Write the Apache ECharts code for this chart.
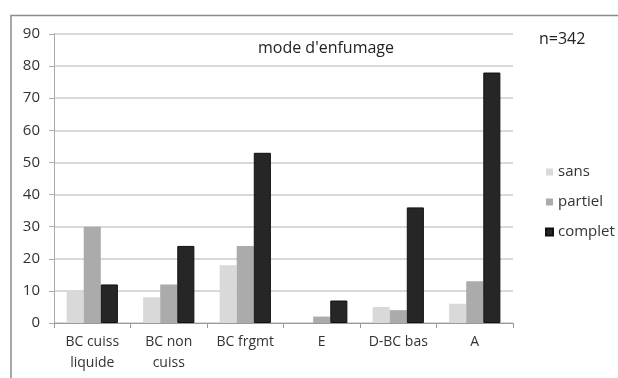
<!DOCTYPE html>
<html><head><meta charset="utf-8">
<script src="https://cdn.jsdelivr.net/npm/echarts@6/dist/echarts.min.js"></script>
<style>html,body{margin:0;padding:0;background:#fff}#c{width:618px;height:378px}</style>
</head><body><div id="c"></div>
<script>
const categories = ['BC cuiss\nliquide', 'BC non\ncuiss', 'BC frgmt', 'E', 'D-BC bas', 'A'];
const sans = [10, 8, 18, 0, 5, 6];
const partiel = [30, 12, 24, 2, 4, 13];
const complet = [12, 24, 53, 7, 36, 78];
const yTicks = [0, 10, 20, 30, 40, 50, 60, 70, 80, 90];

const font = '"Open Sans", "Noto Sans", sans-serif';
const chart = echarts.init(document.getElementById('c'), null, {renderer: 'canvas'});
chart.setOption({
  animation: false,
  backgroundColor: '#fff',
  textStyle: {fontFamily: font},
  title: {text: "mode d'enfumage", left: 321, top: 35, textAlign: 'center',
    textStyle: {fontSize: 16, fontWeight: 'normal', color: '#222', fontFamily: font}},
  graphic: [
    {type: 'polyline', shape: {points: [[11, 380], [11, 15.5], [620, 15.5]]},
     style: {stroke: '#8a8a8a', lineWidth: 1.5, fill: null}},
    {type: 'text', left: 539, top: 31, style: {text: 'n=342', fontSize: 16, fill: '#222', fontFamily: font}}
  ],
  legend: {
    orient: 'vertical', left: 540, top: 158, itemGap: 12, itemWidth: 7, itemHeight: 7,
    icon: 'rect',
    textStyle: {fontSize: 15, color: '#333', fontFamily: font, padding: [0, 0, 0, 0], lineHeight: 18},
    data: ['sans', 'partiel', 'complet']
  },
  grid: {left: 54, right: 105, top: 34, bottom: 55, containLabel: false},
  xAxis: {
    type: 'category', data: categories,
    axisLine: {lineStyle: {color: '#999', width: 1}},
    axisTick: {show: true, length: 5, lineStyle: {color: '#999'}},
    axisLabel: {interval: 0, fontSize: 14, color: '#333', lineHeight: 21, margin: 9, fontFamily: font}
  },
  yAxis: {
    type: 'value', min: 0, max: 90, interval: 10,
    axisLine: {show: true, lineStyle: {color: '#aaa'}},
    axisTick: {show: true, length: 5, inside: false, lineStyle: {color: '#aaa'}},
    splitLine: {lineStyle: {color: '#d9d9d9', width: 2}},
    axisLabel: {fontSize: 15, color: '#333', margin: 14, fontFamily: font,
      formatter: v => yTicks.includes(v) ? String(v) : ''}
  },
  series: [
    {name: 'sans', type: 'bar', data: sans, barGap: '0%', barCategoryGap: '33%',
     itemStyle: {color: '#d9d9d9'}},
    {name: 'partiel', type: 'bar', data: partiel, barGap: '0%', barCategoryGap: '33%',
     itemStyle: {color: '#ababab'}},
    {name: 'complet', type: 'bar', data: complet, barGap: '0%', barCategoryGap: '33%',
     itemStyle: {color: '#262626', borderColor: '#111', borderWidth: 1}}
  ]
});
</script></body></html>
